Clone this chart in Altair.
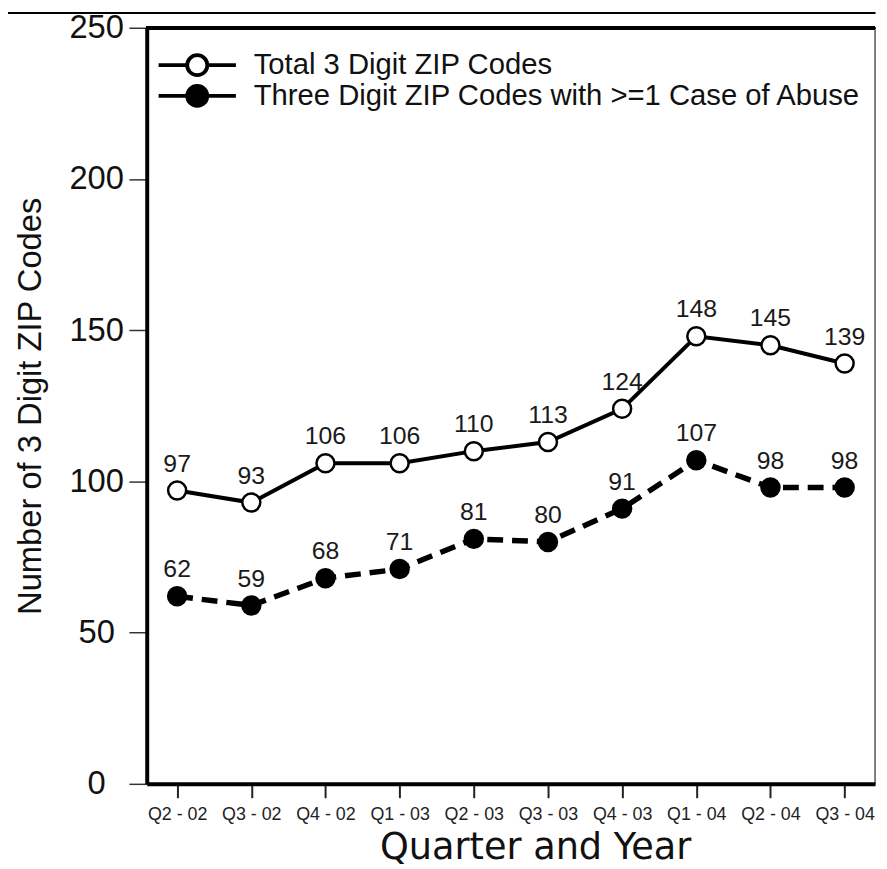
import altair as alt
import pandas as pd

quarters = ["Q2 - 02", "Q3 - 02", "Q4 - 02", "Q1 - 03", "Q2 - 03",
            "Q3 - 03", "Q4 - 03", "Q1 - 04", "Q2 - 04", "Q3 - 04"]
total = [97, 93, 106, 106, 110, 113, 124, 148, 145, 139]
abuse = [62, 59, 68, 71, 81, 80, 91, 107, 98, 98]
series = ["Total 3 Digit ZIP Codes", "Three Digit ZIP Codes with >=1 Case of Abuse"]
y_ticks = [0, 50, 100, 150, 200, 250]

rows = []
for q, t, a in zip(quarters, total, abuse):
    rows.append({"quarter": q, "value": t, "series": series[0]})
    rows.append({"quarter": q, "value": a, "series": series[1]})
df = pd.DataFrame(rows)

FONT = "Liberation Sans"
legend_path = ("M-1,0L-0.27,0M0.27,0L1,0"
               "M-0.26,0A0.26,0.26,0,1,0,0.26,0A0.26,0.26,0,1,0,-0.26,0Z")

x_enc = alt.X(
    "quarter:N", sort=quarters,
    scale=alt.Scale(type="point", padding=0.41),
    axis=alt.Axis(title="Quarter and Year", labelAngle=0, tickSize=14, tickWidth=2,
                  tickColor="#222", labelFont=FONT, labelFontSize=18, labelColor="#222",
                  labelPadding=8, domainColor="black", domainWidth=4,
                  titleFont="DejaVu Sans", titleFontSize=37, titleFontWeight="normal",
                  titleColor="#111", titlePadding=6, titleX=392, grid=False),
)
y_enc = alt.Y(
    "value:Q",
    scale=alt.Scale(domain=[0, 250], nice=False),
    axis=alt.Axis(title="Number of 3 Digit ZIP Codes", values=y_ticks, tickSize=18,
                  tickWidth=1.5, tickColor="#333", labelFont=FONT, labelFontSize=33,
                  labelAlign="center", labelPadding=33, labelColor="#111",
                  domainWidth=4, domainColor="black",
                  titleFont=FONT, titleFontSize=33,
                  titleFontWeight="normal", titleColor="#111", titlePadding=22,
                  grid=False),
)

base = alt.Chart(df).encode(x=x_enc, y=y_enc)

line_total = base.transform_filter(alt.datum.series == series[0]).mark_line(
    color="black", strokeWidth=4)
line_abuse = base.transform_filter(alt.datum.series == series[1]).mark_line(
    color="black", strokeWidth=5.5, strokeDash=[16, 9])

points = base.mark_point(filled=True, stroke="black", strokeWidth=2.5, size=330,
                         opacity=1).encode(
    fill=alt.Fill("series:N", scale=alt.Scale(domain=series, range=["white", "black"]),
                  legend=alt.Legend(title=None, orient="none", legendX=10, legendY=23,
                                    symbolType=legend_path, symbolSize=6084,
                                    symbolStrokeColor="black", symbolStrokeWidth=3.8,
                                    symbolOpacity=1, symbolOffset=0,
                                    labelFont=FONT, labelFontSize=29.5, labelColor="#111",
                                    labelOffset=16, clipHeight=29.5, rowPadding=0,
                                    labelLimit=1000, padding=0))
)

labels = base.mark_text(dy=-27, fontSize=25, font=FONT, color="#1a1a1a").encode(
    text="value:Q")

top_border = alt.Chart(df).mark_rule(color="black", strokeWidth=3).encode(
    y=alt.datum(250))

page_line = alt.Chart(df).mark_rule(color="black", strokeWidth=2).encode(
    x=alt.value(-140), x2=alt.value(735), y=alt.value(-15))

chart = alt.layer(page_line, top_border, line_total, line_abuse, points, labels).properties(
    width=735, height=763,
    padding={"left": 140, "top": 16, "right": 4, "bottom": 82},
    autosize=alt.AutoSizeParams(type="none"),
    background="white",
).configure_view(stroke="#555", strokeWidth=1.5)

chart.save("out.html", embed_options={"renderer": "svg", "actions": False})
